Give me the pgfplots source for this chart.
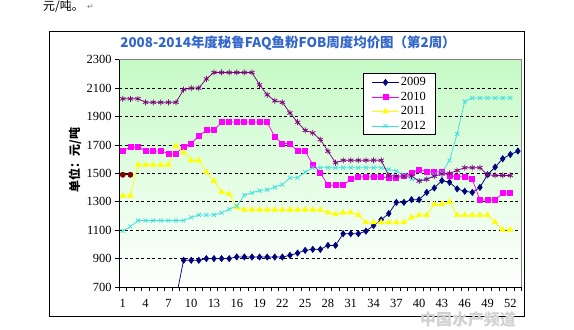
\documentclass[border=0pt]{standalone}
\usepackage{fontspec}
\setmainfont{Liberation Serif}
\newfontfamily\cjk{Noto Sans CJK SC}
\newfontfamily\dejavu{DejaVu Sans}
\usepackage{pgfplots}
\pgfplotsset{compat=1.18}
\definecolor{cA}{RGB}{0,0,128}
\definecolor{cB}{RGB}{255,0,255}
\definecolor{cC}{RGB}{255,255,0}
\definecolor{cD}{RGB}{64,224,224}
\definecolor{cE}{RGB}{128,0,128}
\definecolor{cF}{RGB}{128,0,0}
\definecolor{bggreen}{RGB}{198,250,198}
\definecolor{titleblue}{RGB}{51,102,204}
\begin{document}
\begin{tikzpicture}[x=1bp,y=1bp]
\path[use as bounding box] (0,0) rectangle (574,-329);
\fill[white] (0,0) rectangle (574,-329);
\node[anchor=west, inner sep=0] at (43,-6.5) {\cjk\fontsize{12}{14}\selectfont 元/吨。};
\node[anchor=west, inner sep=0, text=gray] at (87,-7) {\dejavu\fontsize{8}{9}\selectfont ↵};
\draw[black, line width=0.8bp] (49.5,-31.5) rectangle (524,-316);
\node at (288,-43) {\cjk\bfseries\color{titleblue}\fontsize{13.5}{16}\selectfont 2008-2014年度秘鲁FAQ鱼粉FOB周度均价图（第2周）};
\node[rotate=90] at (75,-160) {\cjk\bfseries\fontsize{12}{14}\selectfont 单位：元/吨};
\begin{axis}[
  at={(119bp,-287bp)}, anchor=south west, scale only axis,
  width=402.7bp, height=227.3bp,
  xmin=0.5, xmax=53.5, ymin=700, ymax=2300,
  xtick={1,4,...,52},
  minor xtick={0.5,1.5,...,53.5},
  ytick={700,900,...,2300},
  tick pos=left, tick align=outside,
  major tick length=4bp, minor tick length=4bp,
  major x tick style={draw=none},
  every tick/.style={black, line width=0.6bp},
  minor x tick style={black, line width=0.6bp},
  axis line style={draw=none},
  axis background/.style={top color=bggreen, bottom color=white},
  /pgf/number format/assume math mode=true,
  /pgf/number format/1000 sep={},
  scaled y ticks=false,
  ticklabel style={font=\fontsize{12.5}{14}\selectfont},
  xticklabel style={yshift=-5bp},
  legend style={at={(0.6067,0.940)}, anchor=north west, draw=black, fill=white,
    line width=0.6bp, font=\fontsize{12.5}{14}\selectfont,
    inner xsep=8bp, inner ysep=1.5bp, row sep=0pt,
    nodes={inner sep=1.5bp, text height=9bp, text depth=2.5bp}},
  legend cell align=left,
  legend image code/.code={\draw[mark repeat=2,mark phase=2] plot coordinates {(0bp,0bp) (13.5bp,0bp) (27bp,0bp)};},
  every axis plot/.append style={line width=0.75bp},
  after end axis/.code={
    \draw[gray, line width=0.6bp] (rel axis cs:0,1) -- (rel axis cs:1,1) -- (rel axis cs:1,0);
    \draw[black, line width=0.8bp] (rel axis cs:0,1) -- (rel axis cs:0,0) -- (rel axis cs:1,0);
  },
]
\pgfplotsinvokeforeach{900,1100,...,2100}{
  \draw[black, line width=0.6bp, dash pattern=on 3bp off 2.5bp] (axis cs:0.5,#1) -- (axis cs:53.5,#1);
}
% 2009
\addplot[color=cA, mark=diamond*, mark size=3bp, mark options={solid, fill=cA}] coordinates {
(8,620) (9,888) (10,888) (11,888) (12,900) (13,900) (14,900) (15,900) (16,912) (17,912)
(18,911) (19,911) (20,911) (21,911) (22,911) (23,923) (24,939) (25,958) (26,965) (27,965)
(28,993) (29,993) (30,1075) (31,1075) (32,1075) (33,1093) (34,1133) (35,1173) (36,1217)
(37,1296) (38,1296) (39,1315) (40,1315) (41,1366) (42,1397) (43,1449) (44,1437) (45,1391)
(46,1374) (47,1366) (48,1401) (49,1490) (50,1544) (51,1603) (52,1633) (53,1657)
};
\addlegendentry{2009}
% 2010
\addplot[color=cB, mark=square*, mark size=2.5bp, mark options={solid, fill=cB}] coordinates {
(1,1658) (2,1686) (3,1686) (4,1658) (5,1658) (6,1658) (7,1640) (8,1640) (9,1686) (10,1710)
(11,1763) (12,1803) (13,1803) (14,1861) (15,1861) (16,1861) (17,1861) (18,1861) (19,1861) (20,1861)
(21,1756) (22,1710) (23,1710) (24,1656) (25,1656) (26,1563) (27,1503) (28,1416) (29,1416) (30,1416)
(31,1458) (32,1477) (33,1477) (34,1477) (35,1477) (36,1465) (37,1470) (38,1480) (39,1500) (40,1528)
(41,1512) (42,1512) (43,1512) (44,1481) (45,1477) (46,1477) (47,1458) (48,1313) (49,1313) (50,1313)
(51,1360) (52,1360)
};
\addlegendentry{2010}
% 2011
\addplot[color=cC, mark=triangle*, mark size=3bp, mark options={solid, fill=cC}] coordinates {
(1,1342) (2,1342) (3,1560) (4,1560) (5,1560) (6,1560) (7,1560) (8,1695) (9,1647) (10,1591)
(11,1591) (12,1508) (13,1446) (14,1369) (15,1353) (16,1260) (17,1243) (18,1243) (19,1243) (20,1243)
(21,1243) (22,1243) (23,1243) (24,1243) (25,1243) (26,1243) (27,1243) (28,1225) (29,1213) (30,1225)
(31,1225) (32,1206) (33,1155) (34,1155) (35,1155) (36,1155) (37,1155) (38,1155) (39,1190) (40,1206)
(41,1206) (42,1283) (43,1283) (44,1299) (45,1206) (46,1206) (47,1206) (48,1206) (49,1206) (50,1155)
(51,1103) (52,1103)
};
\addlegendentry{2011}
% 2012
\addplot[color=cD, mark=x, mark size=2.8bp, mark options={solid}] coordinates {
(1,1095) (2,1126) (3,1168) (4,1168) (5,1168) (6,1168) (7,1168) (8,1168) (9,1168) (10,1190)
(11,1207) (12,1207) (13,1207) (14,1223) (15,1247) (16,1270) (17,1347) (18,1363) (19,1379) (20,1385)
(21,1402) (22,1421) (23,1468) (24,1470) (25,1509) (26,1540) (27,1540) (28,1540) (29,1540) (30,1540)
(31,1540) (32,1540) (33,1540) (34,1540) (35,1540) (36,1528) (37,1516) (38,1490) (39,1460) (40,1450)
(41,1460) (42,1490) (43,1505) (44,1591) (45,1778) (46,2006) (47,2030) (48,2030) (49,2030) (50,2030)
(51,2030) (52,2030)
};
\addlegendentry{2012}
% 2013
\addplot[forget plot, color=cE, mark=asterisk, mark size=3bp, mark options={solid}] coordinates {
(1,2025) (2,2025) (3,2025) (4,2000) (5,2000) (6,2000) (7,2000) (8,2000) (9,2090) (10,2100)
(11,2100) (12,2165) (13,2210) (14,2210) (15,2210) (16,2210) (17,2210) (18,2210) (19,2123) (20,2053)
(21,2011) (22,2000) (23,1925) (24,1860) (25,1802) (26,1785) (27,1738) (28,1656) (29,1575) (30,1592)
(31,1592) (32,1592) (33,1592) (34,1592) (35,1592) (36,1485) (37,1481) (38,1481) (39,1481) (40,1446)
(41,1458) (42,1480) (43,1495) (44,1500) (45,1520) (46,1540) (47,1540) (48,1540) (49,1490) (50,1485)
(51,1485) (52,1485)
};
% 2014
\addplot[forget plot, color=cF, mark=*, mark size=2.5bp, mark options={solid, fill=cF}] coordinates {
(1,1490) (2,1490)
};
\end{axis}
\node[anchor=center, text=black!18] at (468,-319) {\cjk\bfseries\fontsize{16}{18}\selectfont 中国水产频道};
\end{tikzpicture}
\end{document}
